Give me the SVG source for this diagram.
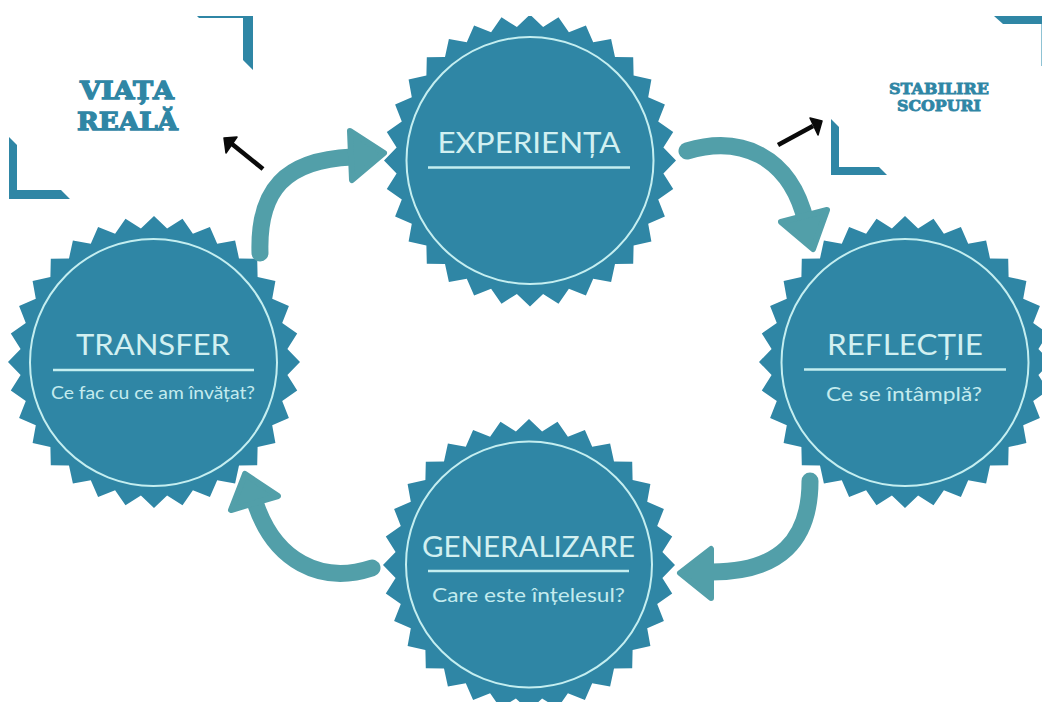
<svg xmlns="http://www.w3.org/2000/svg" xmlns:xlink="http://www.w3.org/1999/xlink" width="1042" height="702" viewBox="0 0 1042 702">
<style>
.burst{fill:#2f86a5}
.ring{fill:none;stroke:#c4eef0;stroke-width:2}
.rule{stroke:#c4eef0;stroke-width:2.4;fill:none}
.title{font-family:"Lato","Liberation Sans",sans-serif;font-weight:400;font-size:29px;fill:#d2f0f1;text-anchor:middle}
.sub{font-family:"Lato","Liberation Sans",sans-serif;font-weight:400;font-size:19px;fill:#c4ebee;text-anchor:middle}
.slab{font-family:"DejaVu Serif","Liberation Serif",serif;font-weight:700;fill:#2f86a5;stroke:#2f86a5;text-anchor:middle}
.corner{fill:#2f86a5}
.band{fill:none;stroke:#529fa9;stroke-width:17;stroke-linecap:round}
.head{fill:#529fa9;stroke:#529fa9;stroke-width:6;stroke-linejoin:round}
.blk{fill:none;stroke:#0a0a0a;stroke-width:4.5}
.blkh{fill:#0a0a0a;stroke:#0a0a0a;stroke-width:1.5;stroke-linejoin:round}
</style>
<defs>
<polygon id="star" points="146,0 133.4,13.1 143.2,28.5 128.2,38.9 134.9,55.9 118.2,63.2 121.4,81.1 103.6,85 103.2,103.2 85,103.6 81.1,121.4 63.2,118.2 55.9,134.9 38.9,128.2 28.5,143.2 13.1,133.4 0,146 -13.1,133.4 -28.5,143.2 -38.9,128.2 -55.9,134.9 -63.2,118.2 -81.1,121.4 -85,103.6 -103.2,103.2 -103.6,85 -121.4,81.1 -118.2,63.2 -134.9,55.9 -128.2,38.9 -143.2,28.5 -133.4,13.1 -146,0 -133.4,-13.1 -143.2,-28.5 -128.2,-38.9 -134.9,-55.9 -118.2,-63.2 -121.4,-81.1 -103.6,-85 -103.2,-103.2 -85,-103.6 -81.1,-121.4 -63.2,-118.2 -55.9,-134.9 -38.9,-128.2 -28.5,-143.2 -13.1,-133.4 0,-146 13.1,-133.4 28.5,-143.2 38.9,-128.2 55.9,-134.9 63.2,-118.2 81.1,-121.4 85,-103.6 103.2,-103.2 103.6,-85 121.4,-81.1 118.2,-63.2 134.9,-55.9 128.2,-38.9 143.2,-28.5 133.4,-13.1"/>
<clipPath id="topclip"><rect x="0" y="16" width="1042" height="686"/></clipPath>
</defs>
<rect width="1042" height="702" fill="#ffffff"/>

<g id="experienta" clip-path="url(#topclip)">
<use xlink:href="#star" href="#star" class="burst" transform="translate(530,160.5)"/>
<circle class="ring" cx="530" cy="160.5" r="123.5"/>
<text class="title" x="529" y="153" textLength="183" lengthAdjust="spacingAndGlyphs">EXPERIENȚA</text>
<line class="rule" x1="428" y1="167.5" x2="630" y2="167.5"/>
</g>

<g id="transfer">
<use xlink:href="#star" href="#star" class="burst" transform="translate(154,362)"/>
<circle class="ring" cx="153.5" cy="362.5" r="123.5"/>
<text class="title" x="153" y="355" textLength="154" lengthAdjust="spacingAndGlyphs">TRANSFER</text>
<line class="rule" x1="53" y1="370" x2="254" y2="370"/>
<text class="sub" x="153" y="399" style="font-size:17px" textLength="204" lengthAdjust="spacingAndGlyphs">Ce fac cu ce am învățat?</text>
</g>

<g id="reflectie">
<use xlink:href="#star" href="#star" class="burst" transform="translate(905,362)"/>
<circle class="ring" cx="905" cy="362.5" r="123.5"/>
<text class="title" x="905" y="355" textLength="156" lengthAdjust="spacingAndGlyphs">REFLECȚIE</text>
<line class="rule" x1="804" y1="369.5" x2="1006" y2="369.5"/>
<text class="sub" x="904" y="401" textLength="156" lengthAdjust="spacingAndGlyphs">Ce se întâmplă?</text>
</g>

<g id="generalizare">
<use xlink:href="#star" href="#star" class="burst" transform="translate(529,565)"/>
<circle class="ring" cx="529" cy="564.5" r="123"/>
<text class="title" x="528.5" y="557" textLength="213" lengthAdjust="spacingAndGlyphs">GENERALIZARE</text>
<line class="rule" x1="428" y1="571" x2="629" y2="571"/>
<text class="sub" x="528.5" y="602" textLength="193" lengthAdjust="spacingAndGlyphs">Care este înțelesul?</text>
</g>

<g id="viata-reala">
<polygon class="corner" points="197,16 253,16 253,70 243,60 243,18 199,18"/>
<polygon class="corner" points="9,137 17,145 17,190 61,190 70,199 9,199"/>
<text class="slab" x="127" y="99" style="font-size:25px;stroke-width:1.3" textLength="94" lengthAdjust="spacingAndGlyphs">VIAȚA</text>
<text class="slab" x="127.5" y="130" style="font-size:25px;stroke-width:1.3" textLength="101" lengthAdjust="spacingAndGlyphs">REALĂ</text>
</g>

<g id="stabilire-scopuri">
<polygon class="corner" points="831,119 839,127 839,167 879,167 887,175 831,175"/>
<polygon class="corner" points="994,16 1042,16 1042,24 1003,24"/>
<rect x="1041" y="24" width="1" height="42" fill="#8fc3d4"/>
<text class="slab" x="939" y="94" style="font-size:14.5px;stroke-width:.8" textLength="100" lengthAdjust="spacingAndGlyphs">STABILIRE</text>
<text class="slab" x="939" y="111" style="font-size:14.5px;stroke-width:.8" textLength="84" lengthAdjust="spacingAndGlyphs">SCOPURI</text>
</g>

<g id="connectors">
<path class="band" d="M260 253 C258 190 285 160 352 157"/>
<polygon class="head" points="350,131 384,153 352,180"/>
<path class="band" d="M687 151 C740 135 790 155 806 222"/>
<polygon class="head" points="827,210 781,222 813,249"/>
<path class="band" d="M810 481 C810 540 780 572 712 572"/>
<polygon class="head" points="680,573 711,549 711,598"/>
<path class="band" d="M372 568 C320 585 275 560 256 505"/>
<polygon class="head" points="245,474 231,510 278,496"/>
<line class="blk" x1="263" y1="169" x2="232" y2="144"/>
<polygon class="blkh" points="224,138 237,137 226,153"/>
<line class="blk" x1="778" y1="145" x2="813" y2="126"/>
<polygon class="blkh" points="822,121 810,118 818,135"/>
</g>
</svg>
